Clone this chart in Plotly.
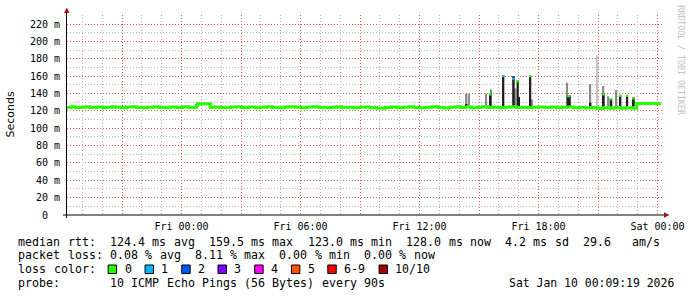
import plotly.graph_objects as go

# ---------------- data (time in minutes relative to Fri 00:00, values in ms) -------------
med_t = [-346.5, -334.5, -322.5, -307.5, -289.5, -277.5, -256.5, -238.5, -226.5, -211.5,
         -199.5, -181.5, -166.5, -148.5, -136.5, -115.5, -103.5, -82.5, -67.5, -49.5,
         -34.5, -16.5, 4.5, 22.5, 37.5, 45, 48, 87, 100.5, 115.5,
         130.5, 148.5, 166.5, 181.5, 202.5, 223.5, 238.5, 256.5, 274.5, 292.5,
         310.5, 328.5, 343.5, 361.5, 379.5, 400.5, 415.5, 433.5, 451.5, 469.5,
         484.5, 502.5, 520.5, 538.5, 556.5, 571.5, 589.5, 616.5, 634.5, 652.5,
         670.5, 688.5, 703.5, 721.5, 739.5, 757.5, 775.5, 793.5, 811.5, 829.5,
         844.5, 859.5, 877.5, 895.5, 910.5, 928.5, 943.5, 961.5, 979.5, 994.5,
         1012.5, 1030.5, 1045.5, 1063.5, 1081.5, 1099.5, 1117.5, 1135.5, 1150.5, 1168.5,
         1186.5, 1204.5, 1222.5, 1240.5, 1258.5, 1276.5, 1291.5, 1309.5, 1327.5, 1345.5,
         1360.5, 1377, 1450.5]
med_ms = [124.0, 124.8, 123.8, 124.3, 124.9, 123.9, 124.5, 123.6, 124.2, 124.9,
          124.1, 123.6, 124.4, 124.9, 124.0, 123.5, 124.2, 124.8, 124.0, 123.6,
          124.5, 124.0, 124.7, 123.8, 124.2, 126.5, 128.3, 123.9, 124.6, 124.0,
          123.5, 124.4, 124.9, 124.0, 124.5, 123.7, 124.3, 124.8, 124.0, 123.6,
          124.4, 124.9, 124.1, 123.7, 124.4, 124.8, 124.0, 123.6, 124.3, 124.7,
          123.9, 124.3, 123.6, 124.2, 124.6, 123.8, 123.0, 123.8, 124.4, 123.6,
          124.2, 124.7, 123.9, 123.5, 124.2, 124.7, 123.9, 123.4, 124.3, 124.8,
          123.9, 124.4, 123.6, 124.2, 124.7, 123.8, 124.3, 123.6, 124.2, 124.7,
          123.8, 124.3, 123.5, 124.2, 124.6, 123.8, 124.4, 123.5, 124.1, 124.5,
          123.7, 124.2, 123.2, 123.8, 122.8, 123.6, 123.0, 123.8, 123.1, 123.7,
          123.0, 128.6, 128.6]

# dense smoke (all pings high)
dark_t = [44, 87, 862.5, 934.5, 973.5, 1004, 1017, 1022, 1055, 1171.5,
          1237, 1276, 1299, 1327.5, 1348, 1368]
dark_dur = [3, 4.5, 4.5, 6, 6, 7.5, 6.6, 3, 6, 12,
            6, 8, 8, 6, 6, 6]
dark_lo = [123, 123, 125, 125, 125, 125, 125, 125, 125, 125,
           125, 125, 125, 125, 125, 125]
dark_hi = [127, 128.5, 128, 140, 161, 160, 155, 136, 160.5, 138,
           129.5, 140, 134.5, 138.3, 138.3, 135.6]

# scattered smoke (some pings high)
smoke_t = [862.5, 869, 922, 935.5, 1011, 1060.5, 1165.5, 1237, 1276.5, 1290, 1316]
smoke_dur = [4.5, 3.6, 4.5, 3, 4.5, 4.5, 4.5, 4.5, 4.5, 4, 4]
smoke_hi = [140, 140, 140, 145, 146, 133, 152.5, 151, 148.7, 137, 144]
sparse_t = [1258]
sparse_dur = [6]
sparse_hi = [184]

# median values at spike tops and loss
tip_t = [934.5, 973.5, 1004, 1017, 1055, 1171.5, 1276, 1299, 1327.5, 1348, 1368,
         120, 850, 922.5, 1165.5, 1237.5]
tip_dur = [6, 6, 6, 6, 6, 9, 7.5, 7.5, 6, 6, 6,
           4.5, 5, 4.5, 4.5, 4.5]
tip_ms = [139, 160, 157, 154, 160, 137, 139, 133.5, 137.5, 137.5, 134.5,
          124, 124, 124, 124, 123.5]
tip_loss = [0, 1, 1, 0, 0, 0, 0, 0, 0, 0, 0,
            1, 1, 1, 1, 1]

loss_labels = ["0", "1", "2", "3", "4", "5", "6-9", "10/10"]
loss_colors = ["#26ff00", "#00b8ff", "#0059ff", "#7e00ff", "#ff00ff", "#ff5500", "#ff0000", "#a00000"]

x_major = [-180, 0, 180, 360, 540, 720, 900, 1080, 1260, 1440]
x_labels = ["", "Fri 00:00", "", "Fri 06:00", "", "Fri 12:00", "", "Fri 18:00", "", "Sat 00:00"]
x_minor = [m for m in range(-300, 1441, 60) if m % 180 != 0]
y_major = [0, 20, 40, 60, 80, 100, 120, 140, 160, 180, 200, 220]
y_labels = ["0\u00a0\u00a0"] + [f"{v} m" for v in y_major[1:]]
y_minor = [10, 30, 50, 70, 90, 110, 130, 150, 170, 190, 210, 230]

line1 = "median rtt:  124.4 ms avg  159.5 ms max  123.0 ms min  128.0 ms now  4.2 ms sd  29.6   am/s"
line2 = "packet loss: 0.08 % avg  8.11 % max  0.00 % min  0.00 % now"
line3 = "loss color:"
line4 = "probe:       10 ICMP Echo Pings (56 Bytes) every 90s"
stamp = "Sat Jan 10 00:09:19 2026"

# ---------------- figure -------------
L, T, W, H = 67, 15, 600, 200
X_RANGE = [-346.5, 1453.5]
Y_RANGE = [0, 230.5]
def px(x):
    return (x - L) / W
def py(y):
    return (T + H - y) / H

MONO = "DejaVu Sans Mono"
fig = go.Figure()

# carrier for the secondary (minor grid) axes
fig.add_trace(go.Scatter(x=[None], y=[None], xaxis="x2", yaxis="y2", mode="lines", hoverinfo="skip"))

fig.add_trace(go.Bar(x=sparse_t, width=sparse_dur, base=[125] * len(sparse_t),
                     y=[h - 125 for h in sparse_hi], marker=dict(color="#c6c6c6", line=dict(width=0))))
fig.add_trace(go.Bar(x=smoke_t, width=smoke_dur, base=[125] * len(smoke_t),
                     y=[h - 125 for h in smoke_hi], marker=dict(color="#8c8c8c", line=dict(width=0))))
fig.add_trace(go.Scatter(x=med_t, y=med_ms, mode="lines", line=dict(color=loss_colors[0], width=3, shape="hv"),
                         hoverinfo="skip"))
fig.add_trace(go.Bar(x=dark_t, width=dark_dur, base=dark_lo,
                     y=[h - l for h, l in zip(dark_hi, dark_lo)], marker=dict(color="#202020", line=dict(width=0))))
fig.add_trace(go.Bar(x=tip_t, width=tip_dur, base=[m - 1.3 for m in tip_ms], y=[2.6] * len(tip_ms),
                     marker=dict(color=[loss_colors[k] for k in tip_loss], line=dict(width=0))))

grid_red = "#e65a5a"
grid_gray = "#b4b4b4"
DASH = "1px,2px"

fig.update_layout(
    width=697, height=297, margin=dict(l=L, r=697 - L - W, t=T, b=297 - T - H),
    paper_bgcolor="white", plot_bgcolor="white", showlegend=False, barmode="overlay",
    font=dict(family=MONO, size=10, color="#000"),
    xaxis=dict(range=X_RANGE, tickmode="array", tickvals=x_major, ticktext=x_labels,
               showgrid=True, gridcolor=grid_red, griddash=DASH, gridwidth=1,
               ticks="outside", ticklen=2, tickcolor="rgba(0,0,0,0)",
               showline=False, zeroline=False, tickfont=dict(family=MONO, size=10, color="#000")),
    yaxis=dict(range=Y_RANGE, tickmode="array", tickvals=y_major, ticktext=y_labels,
               showgrid=True, gridcolor=grid_red, griddash=DASH, gridwidth=1,
               ticks="outside", ticklen=4, tickcolor="rgba(0,0,0,0)",
               showline=False, zeroline=False, tickfont=dict(family=MONO, size=10, color="#000")),
    xaxis2=dict(overlaying="x", anchor="y2", range=X_RANGE, tickmode="array", tickvals=x_minor,
                showticklabels=False, ticks="", showgrid=True, gridcolor=grid_gray, griddash=DASH,
                gridwidth=1, showline=False, zeroline=False),
    yaxis2=dict(overlaying="y", anchor="x2", range=Y_RANGE, tickmode="array", tickvals=y_minor,
                showticklabels=False, ticks="", showgrid=True, gridcolor=grid_gray, griddash=DASH,
                gridwidth=1, showline=False, zeroline=False),
)

shapes = [
    dict(type="line", xref="paper", yref="paper", x0=px(63), x1=px(669), y0=py(215), y1=py(215),
         line=dict(color="#000", width=1)),
    dict(type="line", xref="paper", yref="paper", x0=px(66.5), x1=px(66.5), y0=py(218), y1=py(12),
         line=dict(color="#000", width=1)),
    dict(type="path", xref="paper", yref="paper",
         path=f"M {px(64)} {py(13)} L {px(69.5)} {py(13)} L {px(66.8)} {py(7.5)} Z",
         fillcolor="#a01010", line=dict(width=0)),
    dict(type="path", xref="paper", yref="paper",
         path=f"M {px(669)} {py(212.2)} L {px(669)} {py(217.8)} L {px(674.5)} {py(215)} Z",
         fillcolor="#a01010", line=dict(width=0)),
]

ann = []
CHAR_W = 7.115
def text(x, y, s, anchor="left", size=11.6, color="#000", family=MONO, angle=0):
    ann.append(dict(x=px(x), y=py(y), xref="paper", yref="paper", text=s, showarrow=False,
                    xanchor=anchor, yanchor="middle", textangle=angle,
                    font=dict(family=family, size=size, color=color)))

def mono_line(s, y, x0=16):
    # place each word at its character column, like a fixed-width console layout
    i = 0
    n = len(s)
    while i < n:
        if s[i] == " ":
            i += 1
            continue
        j = i
        while j < n and s[j] != " ":
            j += 1
        text(x0 + i * CHAR_W, y, s[i:j])
        i = j

mono_line(line1, 241.5)
mono_line(line2, 255)
mono_line(line3, 269)
mono_line(line4, 283)
text(681, 283, stamp.replace(" ", "\u00a0"), anchor="right", size=11.45)

box_x = [108.5, 145.7, 182.7, 219.3, 256.3, 293.3, 330, 381.7]
for bx, lab, col in zip(box_x, loss_labels, loss_colors):
    shapes.append(dict(type="rect", xref="paper", yref="paper", x0=px(bx), x1=px(bx + 8.5),
                       y0=py(273.5), y1=py(265), fillcolor=col, line=dict(color="#000", width=1)))
    text(bx + 14.5, 269, lab)

ann.append(dict(x=px(10), y=py(114), xref="paper", yref="paper", text="Seconds", showarrow=False,
                xanchor="center", yanchor="middle", textangle=-90,
                font=dict(family="DejaVu Sans", size=11, color="#000")))
ann.append(dict(x=px(686), y=py(60), xref="paper", yref="paper", text="RRDTOOL / TOBI OETIKER".replace(" ", "\u00a0"),
                showarrow=False, xanchor="center", yanchor="middle", textangle=90,
                font=dict(family=MONO, size=8.3, color="#c0c0c0")))

fig.update_layout(shapes=shapes, annotations=ann)
fig.write_html("out.html", config={"displayModeBar": False})
